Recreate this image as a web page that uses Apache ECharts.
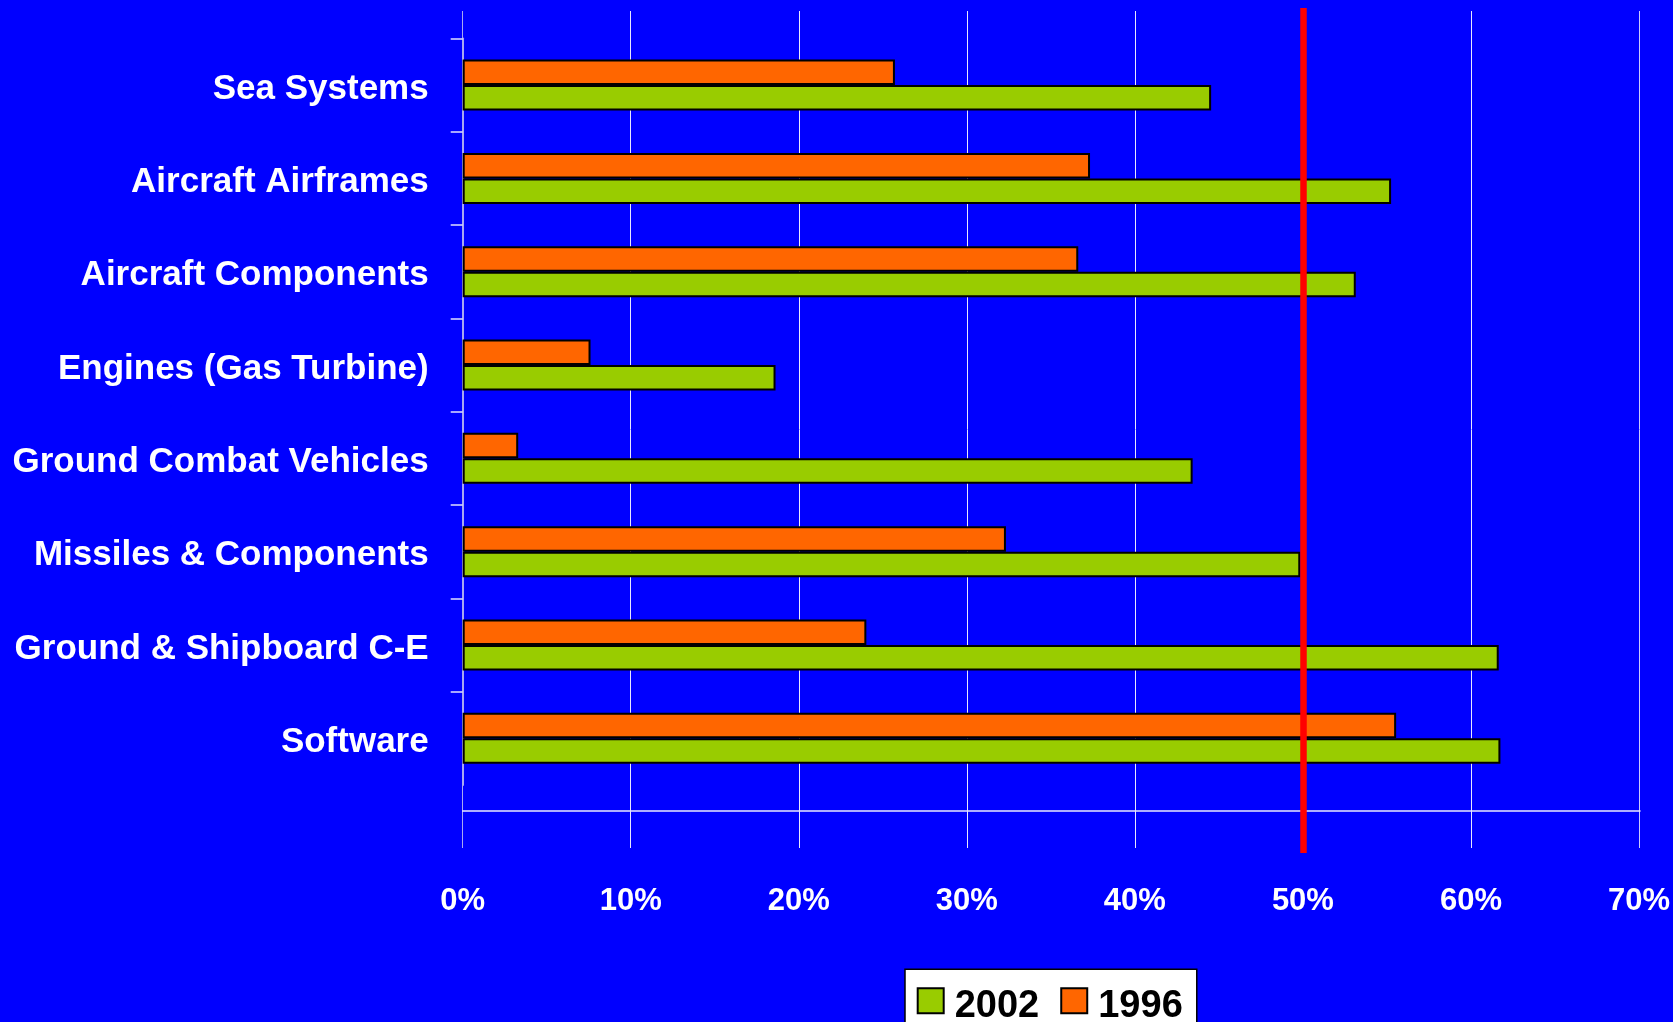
<!DOCTYPE html>
<html>
<head>
<meta charset="utf-8">
<script src="https://cdn.jsdelivr.net/npm/echarts@6/dist/echarts.min.js"></script>
<style>
html,body{margin:0;padding:0;background:#0000FF;}
#chart{width:1673px;height:1022px;}
</style>
</head>
<body>
<div id="chart"></div>
<script>
const categories = ['Sea Systems','Aircraft Airframes','Aircraft Components','Engines (Gas Turbine)','Ground Combat Vehicles','Missiles & Components','Ground & Shipboard C-E','Software'];
const values2002 = [44.5, 55.2, 53.1, 18.6, 43.4, 49.8, 61.6, 61.7];
const values1996 = [25.7, 37.3, 36.6, 7.6, 3.3, 32.3, 24.0, 55.5];
const xTicks = [0, 10, 20, 30, 40, 50, 60, 70];
const threshold = 50;

const chart = echarts.init(document.getElementById('chart'));
const xMin = xTicks[0], xMax = xTicks[xTicks.length - 1], xStep = xTicks[1] - xTicks[0];
const band = (1022 - 237 - 38.4) / categories.length;

chart.setOption({
  backgroundColor: '#0000FF',
  animation: false,
  grid: [
    {left: 462.7, right: 33, top: 11, bottom: 174},   // gridlines + labels
    {left: 462.7, right: 33, top: 38.4, bottom: 237}, // bars
    {left: 462.7, right: 33, top: 11, bottom: 211},   // horizontal line
    {left: 462.7, right: 33, top: 8, bottom: 169},    // threshold line
    {left: 462.7, right: 33, top: 38.4, bottom: 237 + band} // category ticks
  ],
  xAxis: [
    {gridIndex: 0, type: 'value', min: xMin, max: xMax, interval: xStep,
     axisLine: {show: false}, axisTick: {show: false},
     splitLine: {show: true, lineStyle: {color: ['#A8A8F0','#E8E8FF','#E8E8FF','#E8E8FF','#E8E8FF','#E8E8FF','#E8E8FF','#C8C8FF'], width: 1}},
     axisLabel: {color: '#FFFFFF', fontSize: 31, fontWeight: 'bold',
       fontFamily: '"Liberation Sans Narrow","Arial Narrow","Liberation Sans",Arial,sans-serif',
       margin: 38, formatter: v => v + '%'}},
    {gridIndex: 1, type: 'value', min: xMin, max: xMax, interval: xStep,
     show: false, splitLine: {show: false}},
    {gridIndex: 2, type: 'value', min: xMin, max: xMax, interval: xStep,
     axisLine: {show: true, lineStyle: {color: '#E8E8FF', width: 1.5}},
     axisTick: {show: false}, axisLabel: {show: false}, splitLine: {show: false}},
    {gridIndex: 3, type: 'value', min: xMin, max: xMax, interval: xStep, show: false,
     splitLine: {show: false}},
    {gridIndex: 4, type: 'value', min: xMin, max: xMax, interval: xStep, show: false,
     splitLine: {show: false}}
  ],
  yAxis: [
    {gridIndex: 0, type: 'value', min: 0, max: 1, show: false, splitLine: {show: false}},
    {gridIndex: 1, type: 'category', data: categories, inverse: true,
     axisLine: {show: true, lineStyle: {color: '#A8A8F0', width: 2}},
     axisTick: {show: false},
     splitLine: {show: false},
     axisLabel: {color: '#FFFFFF', fontSize: 35, fontWeight: 'bold',
       fontFamily: '"Liberation Sans",Arial,sans-serif', margin: 34,
       verticalAlign: 'top', lineHeight: 8}},
    {gridIndex: 2, type: 'value', min: 0, max: 1, show: false, splitLine: {show: false}},
    {gridIndex: 3, type: 'value', min: 0, max: 1, show: false, splitLine: {show: false}},
    {gridIndex: 4, type: 'value', min: 0, max: categories.length - 1, interval: 1, inverse: true,
     axisLine: {show: false}, axisLabel: {show: false}, splitLine: {show: false},
     axisTick: {show: true, length: 12, lineStyle: {color: '#E0E0FF', width: 1.5}}}
  ],
  legend: {
    data: ['2002', '1996'],
    left: 905, top: 969.3,
    padding: [18, 14, 30, 11.7],
    itemWidth: 26, itemHeight: 25, itemGap: 21,
    backgroundColor: '#FFFFFF', borderColor: '#000000', borderWidth: 1.5,
    formatter: '{a|{name}}',
    textStyle: {color: '#000000', fontSize: 38, fontWeight: 'bold',
      fontFamily: '"Liberation Sans",Arial,sans-serif',
      rich: {a: {color: '#000000', fontSize: 38, fontWeight: 'bold',
        fontFamily: '"Liberation Sans",Arial,sans-serif', padding: [12, 0, 0, 6]}}},
    itemStyle: {borderColor: '#000000', borderWidth: 2},
    icon: 'rect'
  },
  series: [
    {name: '1996', type: 'bar', xAxisIndex: 1, yAxisIndex: 1, data: values1996,
     barWidth: 25.5, barGap: '0%',
     itemStyle: {color: '#FF6600', borderColor: '#000000', borderWidth: 2}},
    {name: '2002', type: 'bar', xAxisIndex: 1, yAxisIndex: 1, data: values2002,
     barWidth: 25.5, barGap: '0%',
     itemStyle: {color: '#99CC00', borderColor: '#000000', borderWidth: 2}},
    {name: 'threshold', type: 'line', xAxisIndex: 3, yAxisIndex: 3, data: [],
     markLine: {silent: true, symbol: 'none', label: {show: false},
       lineStyle: {color: '#FF0000', width: 6.5, type: 'solid'},
       data: [{xAxis: threshold}]}}
  ]
});
</script>
</body>
</html>
